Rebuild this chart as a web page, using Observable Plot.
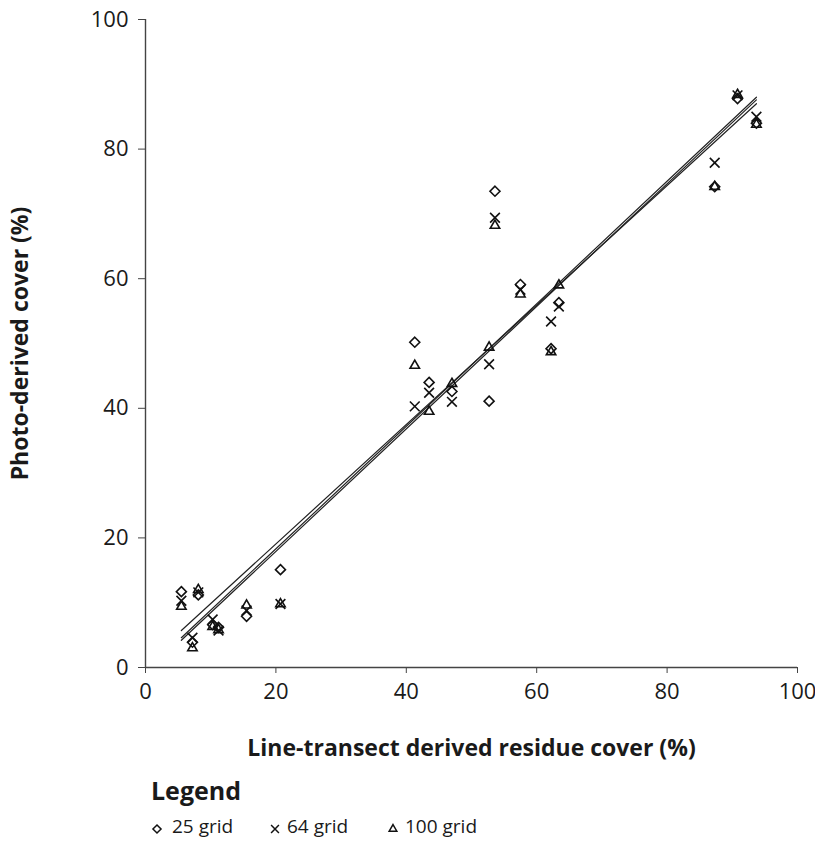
<!DOCTYPE html>
<html>
<head>
<meta charset="utf-8">
<script src="https://cdn.jsdelivr.net/npm/d3@7"></script>
<script src="https://cdn.jsdelivr.net/npm/@observablehq/plot@0.6"></script>
<style>
  body { margin: 0; background: #fff; font-family: "Open Sans", Roboto, sans-serif; color: #1a1a1a; position: relative; width: 815px; height: 844px; overflow: hidden; }
  .lg { position: absolute; white-space: nowrap; }
  .lg-title { left: 151px; top: 778px; font-weight: 700; font-size: 25px; line-height: 25px; }
  .lg-item { top: 817px; font-size: 19px; line-height: 19px; }
  .lg-sym { position: absolute; top: 823px; }
</style>
</head>
<body>
<div id="chart"></div>
<div class="lg lg-title">Legend</div>
<div id="legend-items"></div>
<script>
// Line-transect derived residue cover (%) per site
const transect = [5.5, 7.2, 8.1, 10.3, 11.2, 15.5, 20.7, 41.3, 43.5, 47.0, 52.7, 53.6, 57.5, 62.2, 63.4, 87.3, 90.8, 93.7];
// Photo-derived cover (%) per grid size
const grid25  = [11.7, 3.9, 11.2, 6.6, 6.2, 7.9, 15.1, 50.2, 44.0, 42.6, 41.1, 73.5, 59.1, 49.2, 56.3, 74.2, 87.8, 84.0];
const grid64  = [10.3, 4.6, 11.6, 7.4, 5.7, 8.8,  9.8, 40.3, 42.4, 41.0, 46.8, 69.4, 58.3, 53.4, 55.7, 77.9, 88.3, 85.0];
const grid100 = [ 9.4, 3.0, 12.0, 6.3, 5.8, 9.6,  9.8, 46.6, 39.5, 43.8, 49.4, 68.2, 57.6, 48.7, 59.0, 74.2, 88.4, 83.8];
const series = ["25 grid", "64 grid", "100 grid"];
const symbols = ["diamond2", "times", "triangle2"];
// Fitted regression line endpoints per grid
const fitX = [5.5, 93.7];
const fit25  = [5.7, 87.0];
const fit64  = [4.6, 88.0];
const fit100 = [4.2, 87.6];
const xTicks = [0, 20, 40, 60, 80, 100];
const yTicks = [0, 20, 40, 60, 80, 100];

const values = [grid25, grid64, grid100];
const points = [];
series.forEach((s, i) => transect.forEach((t, j) => points.push({x: t, y: values[i][j], s})));
const fits = [fit25, fit64, fit100];
const lines = [];
series.forEach((s, i) => fitX.forEach((fx, j) => lines.push({x: fx, y: fits[i][j], s})));

const chart = Plot.plot({
  width: 815,
  height: 770,
  marginLeft: 145,
  marginRight: 18,
  marginTop: 19,
  marginBottom: 103,
  style: {fontFamily: "'Open Sans', Roboto, sans-serif", fontSize: "22px", color: "#1a1a1a", background: "#fff"},
  x: {domain: [0, 100], ticks: xTicks, tickSize: 6, tickPadding: 10, label: "Line-transect derived residue cover (%)", labelAnchor: "center", labelOffset: 88, labelArrow: "none"},
  y: {domain: [0, 100], ticks: yTicks, tickSize: 7, tickPadding: 10, label: "Photo-derived cover (%)", labelAnchor: "center", labelOffset: 134, labelArrow: "none"},
  symbol: {domain: series, range: symbols},
  marks: [
    Plot.ruleX([0], {y1: 0, y2: 100, stroke: "#444", strokeWidth: 1.4}),
    Plot.ruleY([0], {x1: 0, x2: 100, stroke: "#444", strokeWidth: 1.4}),
    Plot.line(lines, {x: "x", y: "y", z: "s", stroke: "#222", strokeWidth: 1.2}),
    Plot.dot(points, {x: "x", y: "y", symbol: "s", stroke: "#111", strokeWidth: 1.6, r: 4.5})
  ]
});
chart.querySelectorAll("g[aria-label='x-axis label'] text, g[aria-label='y-axis label'] text").forEach(t => {
  t.setAttribute("font-weight", "bold");
  t.setAttribute("font-size", "23px");
});
chart.querySelectorAll("g[aria-label='x-axis tick'], g[aria-label='y-axis tick']").forEach(g => g.setAttribute("stroke", "#444"));
document.getElementById("chart").append(chart);

// Legend: symbol + label, drawn with the same symbol types
const legendX = [152, 270, 388];
const textX = [172, 287, 405];
const holder = document.getElementById("legend-items");
const symScale = Plot.scale({symbol: {domain: series, range: symbols}});
series.forEach((s, i) => {
  const svg = d3.create("svg").attr("class", "lg-sym").attr("width", 12).attr("height", 12)
    .style("left", (legendX[i] - 1) + "px");
  svg.append("path").attr("transform", "translate(6,6)")
    .attr("d", d3.symbol(symScale.apply(s), 42)()).attr("fill", "none").attr("stroke", "#111").attr("stroke-width", 1.5);
  holder.append(svg.node());
  const t = document.createElement("div");
  t.className = "lg lg-item";
  t.style.left = textX[i] + "px";
  t.textContent = s;
  holder.append(t);
});
</script>
</body>
</html>
